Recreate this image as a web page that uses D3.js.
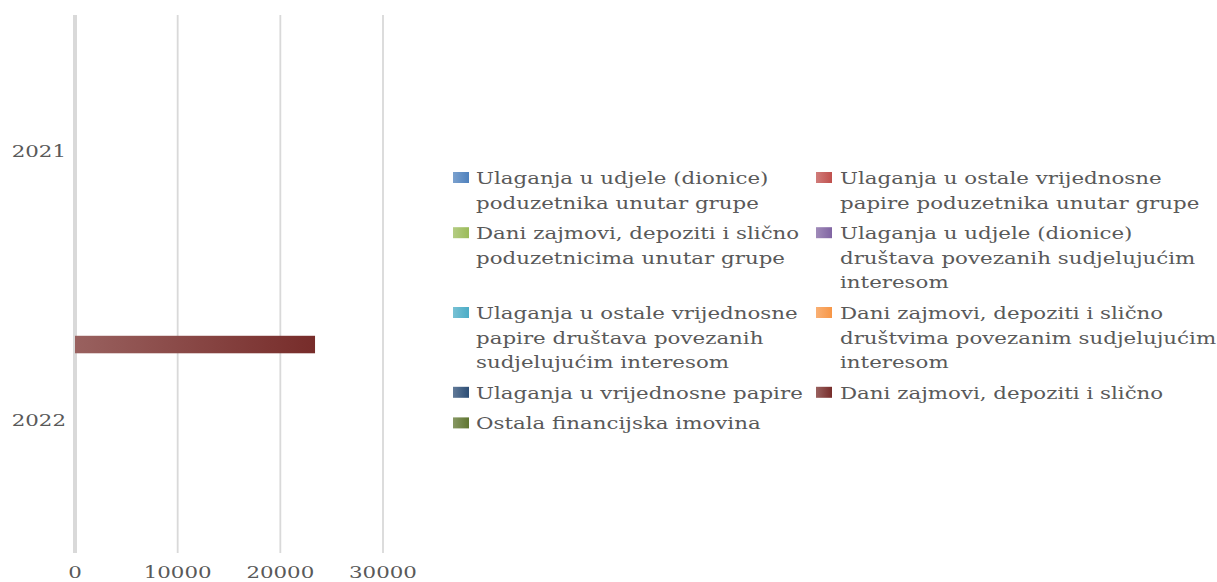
<!DOCTYPE html>
<html>
<head>
<meta charset="utf-8">
<script src="https://cdn.jsdelivr.net/npm/d3@7"></script>
<style>
  body { margin: 0; background: #fff; }
  svg text { font-family: 'DejaVu Serif', serif; fill: #595959; }
</style>
</head>
<body>
<svg id="chart" width="1217" height="582"></svg>
<script>
  // data
  var years = ['2021', '2022']
  var xTicks = [0, 10000, 20000, 30000]
  var seriesNames = [
    'Ulaganja u udjele (dionice) poduzetnika unutar grupe',
    'Ulaganja u ostale vrijednosne papire poduzetnika unutar grupe',
    'Dani zajmovi, depoziti i slično poduzetnicima unutar grupe',
    'Ulaganja u udjele (dionice) društava povezanih sudjelujućim interesom',
    'Ulaganja u ostale vrijednosne papire društava povezanih sudjelujućim interesom',
    'Dani zajmovi, depoziti i slično društvima povezanim sudjelujućim interesom',
    'Ulaganja u vrijednosne papire',
    'Dani zajmovi, depoziti i slično',
    'Ostala financijska imovina'
  ]
  // legend lines as they wrap in the picture
  var legendLines = [
    ['Ulaganja u udjele (dionice)', 'poduzetnika unutar grupe'],
    ['Ulaganja u ostale vrijednosne', 'papire poduzetnika unutar grupe'],
    ['Dani zajmovi, depoziti i slično', 'poduzetnicima unutar grupe'],
    ['Ulaganja u udjele (dionice)', 'društava povezanih sudjelujućim', 'interesom'],
    ['Ulaganja u ostale vrijednosne', 'papire društava povezanih', 'sudjelujućim interesom'],
    ['Dani zajmovi, depoziti i slično', 'društvima povezanim sudjelujućim', 'interesom'],
    ['Ulaganja u vrijednosne papire'],
    ['Dani zajmovi, depoziti i slično'],
    ['Ostala financijska imovina']
  ]
  // values per series: [2021, 2022]
  var values2021 = [null, null, null, null, null, null, null, null, null]
  var values2022 = [null, null, null, null, null, null, null, 23380, null]
  var seriesColors = ['#4f81bd', '#c0504d', '#9bbb59', '#8064a2', '#4bacc6',
                      '#f79646', '#2c4d75', '#772c2a', '#5f7530']

  var stretch = 1.22 // the reference text is drawn wide
  var svg = d3.select('#chart')
  var defs = svg.append('defs')

  seriesColors.forEach(function (c, i) {
    var g = defs.append('linearGradient').attr('id', 'grad' + i)
      .attr('x1', 0).attr('x2', 1).attr('y1', 0).attr('y2', 0)
    g.append('stop').attr('offset', 0).attr('stop-color', d3.interpolateRgb(c, '#fff')(0.25))
    g.append('stop').attr('offset', 1).attr('stop-color', c)
  })

  var plot = { left: 75, right: 383, top: 15, bottom: 553 }

  var x = d3.scaleLinear().domain([0, 30000]).range([plot.left, plot.right])
  var y0 = d3.scaleBand().domain(years).range([plot.top, plot.bottom])
  var order = d3.range(seriesNames.length).reverse()
  var y1 = d3.scaleBand().domain(order).range([0, y0.bandwidth()])
    .paddingInner(0.29).paddingOuter(1.1)

  // gridlines
  svg.append('g').selectAll('line').data(xTicks.slice(1)).join('line')
    .attr('x1', function (d) { return x(d) }).attr('x2', function (d) { return x(d) })
    .attr('y1', plot.top).attr('y2', plot.bottom)
    .attr('stroke', '#d9d9d9').attr('stroke-width', 1.8)

  // value axis line at zero
  svg.append('line')
    .attr('x1', x(0)).attr('x2', x(0)).attr('y1', plot.top).attr('y2', plot.bottom)
    .attr('stroke', '#d9d9d9').attr('stroke-width', 4)

  // bars
  var rows = years.map(function (yr, j) {
    return { year: yr, vals: j === 0 ? values2021 : values2022 }
  })
  rows.forEach(function (r) {
    svg.append('g').attr('transform', 'translate(0,' + y0(r.year) + ')')
      .selectAll('rect')
      .data(r.vals.map(function (v, i) { return { v: v, i: i } }).filter(function (d) { return d.v }))
      .join('rect')
      .attr('x', x(0))
      .attr('y', function (d) { return y1(d.i) })
      .attr('width', function (d) { return x(d.v) - x(0) })
      .attr('height', y1.bandwidth())
      .attr('fill', function (d) { return 'url(#grad' + d.i + ')' })
  })

  // x tick labels
  svg.append('g').selectAll('text').data(xTicks).join('text')
    .attr('transform', function (d) { return 'translate(' + x(d) + ',578) scale(' + stretch + ',1)' })
    .attr('text-anchor', 'middle').attr('font-size', 17.5)
    .text(function (d) { return d })

  // category labels
  svg.append('g').selectAll('text').data(years).join('text')
    .attr('transform', function (d) {
      return 'translate(66,' + (y0(d) + y0.bandwidth() / 2 + 7.5) + ') scale(' + stretch + ',1)'
    })
    .attr('text-anchor', 'end').attr('font-size', 17.5)
    .text(function (d) { return d })

  // legend, two columns
  var lineH = 24.6
  var colX = [453, 816]
  var legend = svg.append('g')
  var rowY = 177.5
  for (var k = 0; k < seriesNames.length; k += 2) {
    var maxLines = 0
    for (var c = 0; c < 2 && k + c < seriesNames.length; c++) {
      var idx = k + c
      var lines = legendLines[idx]
      maxLines = Math.max(maxLines, lines.length)
      var item = legend.append('g').attr('transform', 'translate(' + colX[c] + ',' + rowY + ')')
      item.append('rect').attr('x', 0).attr('y', -5.5).attr('width', 16).attr('height', 11)
        .attr('fill', 'url(#grad' + idx + ')')
      item.selectAll('text').data(lines).join('text')
        .attr('transform', function (d, li) {
          return 'translate(' + (c === 0 ? 23 : 24) + ',' + (6.5 + li * lineH) + ') scale(' + stretch + ',1)'
        })
        .attr('font-size', 17.5)
        .text(function (d) { return d })
    }
    rowY += maxLines * lineH + 6
  }
</script>
</body>
</html>
